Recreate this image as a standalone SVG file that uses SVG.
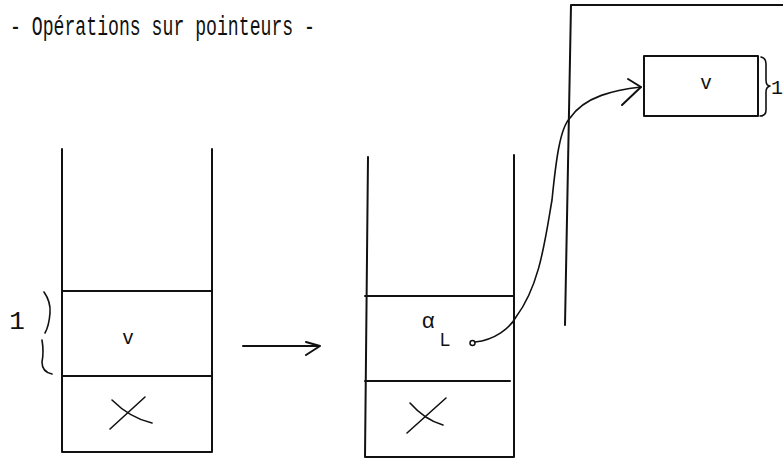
<svg xmlns="http://www.w3.org/2000/svg" width="783" height="461" viewBox="0 0 783 461">
<style>
.ln{stroke:#111;stroke-width:2;fill:none;stroke-linecap:round;stroke-linejoin:round}
.thin{stroke:#111;stroke-width:1.6;fill:none;stroke-linecap:round;stroke-linejoin:round}
.mono{font-family:"Liberation Mono","DejaVu Sans Mono",monospace;fill:#111}
.sans{font-family:"Liberation Sans","DejaVu Sans",sans-serif;fill:#111}
</style>
<rect width="783" height="461" fill="#fff"/>
<text class="mono" x="10" y="35" font-size="27" textLength="305" lengthAdjust="spacingAndGlyphs">- Opérations sur pointeurs -</text>
<g id="stack-before">
  <path class="ln" d="M62,149 L62,452 L212,452 L212,149"/>
  <line class="ln" x1="62" y1="291" x2="212" y2="291"/>
  <line class="ln" x1="62" y1="376" x2="212" y2="376"/>
  <text class="sans" x="128" y="344" font-size="21" text-anchor="middle">v</text>
  <path class="thin" d="M110,429 L145,397"/>
  <path class="thin" d="M112,400 Q130,418 152,423"/>
  <path class="thin" d="M44,292 Q51,302 50,313 Q49,326 45,333 M42,340 Q44,352 42,362 Q42,372 52,374"/>
  <text class="mono" x="17" y="329" font-size="26" text-anchor="middle">1</text>
</g>
<g id="stack-after">
  <path class="ln" d="M368,157 L365,457 L514,457 L514,155"/>
  <line class="ln" x1="365" y1="296" x2="514" y2="296"/>
  <line class="ln" x1="365" y1="381" x2="510" y2="381"/>
  <text class="sans" x="422" y="328" font-size="22">α</text>
  <text class="sans" x="440" y="346" font-size="18">L</text>
  <circle cx="472.5" cy="343" r="2.5" fill="#fff" stroke="#111" stroke-width="1.5"/>
  <path class="thin" d="M407,433 L446,398"/>
  <path class="thin" d="M410,403 Q425,420 443,425"/>
</g>
<g id="heap">
  <path class="ln" d="M565,325 L571,5 L783,5"/>
</g>
<g id="heap-cell">
  <rect class="ln" x="644" y="56" width="114" height="60"/>
  <text class="sans" x="706" y="89" font-size="21" text-anchor="middle">v</text>
  <path class="thin" d="M761,57 Q766,58 766,64 L766,80 Q766,86 770,86 Q766,87 766,92 L766,110 Q766,116 760,116"/>
  <text class="mono" x="771" y="94" font-size="20">1</text>
</g>
<g id="connectors">
  <path class="ln" d="M243,346 L320,346 M306,342 L320,346 L306,355"/>
  <path class="thin" d="M475,342 C495,340 510,328 516,317 C540,285 545,240 552,200 C556,160 560,128 570,118 C585,96 615,90 641,87"/>
  <path class="ln" d="M628,79 L641,87 L622,105"/>
</g>
</svg>
